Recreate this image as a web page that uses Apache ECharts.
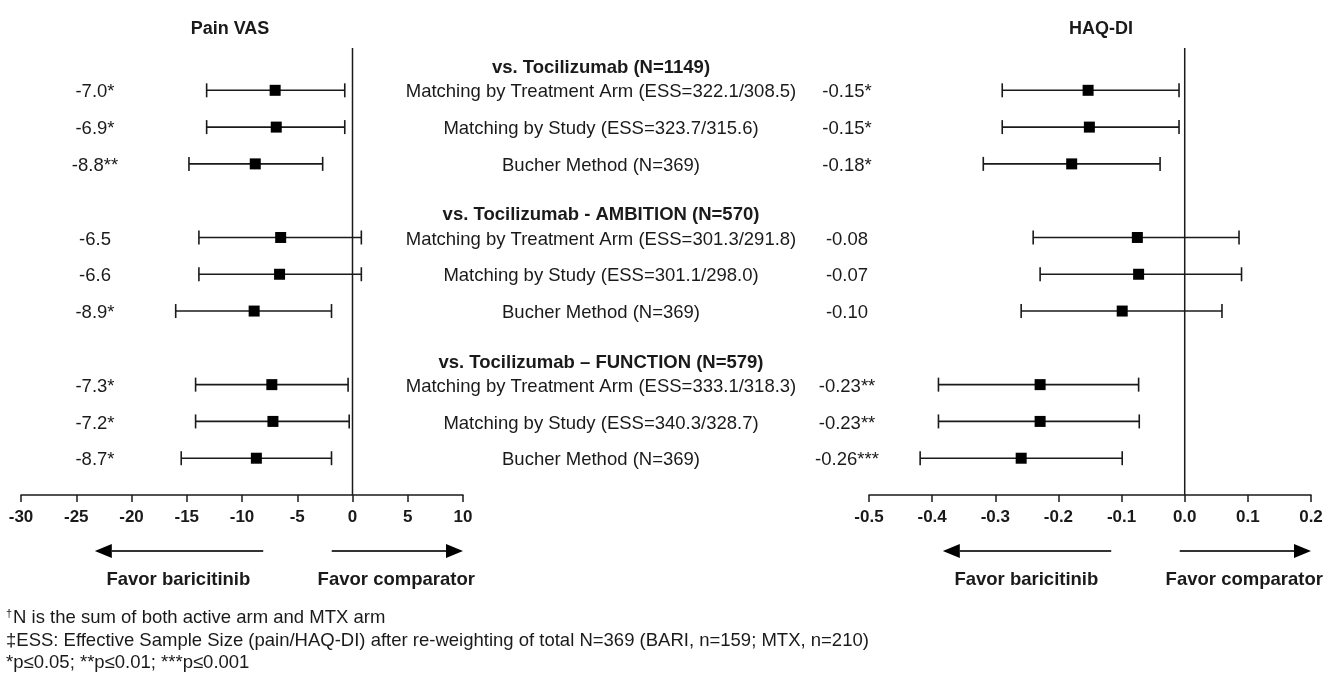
<!DOCTYPE html>
<html><head><meta charset="utf-8">
<script src="https://cdn.jsdelivr.net/npm/echarts@6/dist/echarts.min.js"></script>
<style>html,body{margin:0;padding:0;background:#fff}#c{width:1340px;height:674px}</style>
</head><body><div id="c"></div>
<script>
// ---------- data ----------
const panelTitles = ['Pain VAS', 'HAQ-DI'];
const groups = ['vs. Tocilizumab (N=1149)', 'vs. Tocilizumab - AMBITION (N=570)', 'vs. Tocilizumab \u2013 FUNCTION (N=579)'];
const methods = [
  'Matching by Treatment Arm (ESS=322.1/308.5)', 'Matching by Study (ESS=323.7/315.6)', 'Bucher Method (N=369)',
  'Matching by Treatment Arm (ESS=301.3/291.8)', 'Matching by Study (ESS=301.1/298.0)', 'Bucher Method (N=369)',
  'Matching by Treatment Arm (ESS=333.1/318.3)', 'Matching by Study (ESS=340.3/328.7)', 'Bucher Method (N=369)'
];
const painEst  = [-7.0, -6.9, -8.8, -6.5, -6.6, -8.9, -7.3, -7.2, -8.7];
const painLow  = [-13.2, -13.2, -14.8, -13.9, -13.9, -16.0, -14.2, -14.2, -15.5];
const painHigh = [-0.7, -0.7, -2.7, 0.8, 0.8, -1.9, -0.4, -0.3, -1.9];
const painLabels = ['-7.0*', '-6.9*', '-8.8**', '-6.5', '-6.6', '-8.9*', '-7.3*', '-7.2*', '-8.7*'];
const haqEst  = [-0.153, -0.151, -0.179, -0.075, -0.073, -0.099, -0.229, -0.229, -0.259];
const haqLow  = [-0.289, -0.289, -0.319, -0.240, -0.229, -0.259, -0.390, -0.390, -0.419];
const haqHigh = [-0.009, -0.009, -0.039, 0.086, 0.090, 0.059, -0.073, -0.072, -0.099];
const haqLabels = ['-0.15*', '-0.15*', '-0.18*', '-0.08', '-0.07', '-0.10', '-0.23**', '-0.23**', '-0.26***'];
const painTicks = { min: -30, max: 10, interval: 5 };
const haqTicks = { min: -0.5, max: 0.2, interval: 0.1 };
const favorLabels = ['Favor baricitinib', 'Favor comparator'];
const footnotes = [
  'N is the sum of both active arm and MTX arm',
  '\u2021ESS: Effective Sample Size (pain/HAQ-DI) after re-weighting of total N=369 (BARI, n=159; MTX, n=210)',
  '*p\u22640.05; **p\u22640.01; ***p\u22640.001'
];

// ---------- layout ----------
const FONT = '"Liberation Sans", Arial, Helvetica, sans-serif';
const INK = '#1a1a1a';
const GRID_TOP = 48, GRID_H = 447, GRID_W = 442;
const LEFTS = [21, 869];
const slotOf = i => 4 * Math.floor(i / 3) + 1 + (i % 3);
const headerSlot = g => 4 * g + 0.4;

const chart = echarts.init(document.getElementById('c'));

function barItem(params, api) {
  const est = api.value(0), lo = api.value(1), hi = api.value(2), s = api.value(3);
  const a = api.coord([lo, s]), b = api.coord([hi, s]), e = api.coord([est, s]);
  const cap = 7, box = 11, st = { stroke: INK, lineWidth: 1.6 };
  return { type: 'group', children: [
    { type: 'line', shape: { x1: a[0], y1: a[1], x2: b[0], y2: b[1] }, style: st },
    { type: 'line', shape: { x1: a[0], y1: a[1] - cap, x2: a[0], y2: a[1] + cap }, style: st },
    { type: 'line', shape: { x1: b[0], y1: b[1] - cap, x2: b[0], y2: b[1] + cap }, style: st },
    { type: 'rect', shape: { x: e[0] - box / 2, y: e[1] - box / 2, width: box, height: box }, style: { fill: '#000' } }
  ]};
}
function zeroLine(params, api) {
  const cs = params.coordSys;
  const x = api.coord([api.value(0), 0])[0];
  return { type: 'line', shape: { x1: x, y1: cs.y, x2: x, y2: cs.y + cs.height }, style: { stroke: INK, lineWidth: 1.5 } };
}
function textEl(x, y, text, bold, align) {
  return { type: 'text', x: x, y: y, style: { text: text, fill: INK, fontSize: 18.5, fontFamily: FONT,
    fontWeight: bold ? 'bold' : 'normal', align: align || 'center', verticalAlign: 'middle' } };
}

const rowIdx = methods.map((_, i) => [i, slotOf(i)]);

function xAxisCfg(gi, t, fmt) {
  return {
    type: 'value', gridIndex: gi, position: 'bottom', min: t.min, max: t.max, interval: t.interval,
    axisLine: { show: true, onZero: false, lineStyle: { color: INK, width: 1.5 } },
    axisTick: { show: true, length: 7, lineStyle: { color: INK, width: 1.5 } },
    axisLabel: { color: INK, fontSize: 17, fontWeight: 'bold', fontFamily: FONT, margin: 14, formatter: fmt,
      showMinLabel: true, showMaxLabel: true },
    splitLine: { show: false }
  };
}
function yAxisCfg(gi) {
  return { type: 'value', gridIndex: gi, inverse: true, min: -0.15, max: 12, show: false };
}

// graphic decorations (titles, arrows, footnotes)
const graphics = [];
const titleX = [230, 1101];
panelTitles.forEach((t, k) => graphics.push({ type: 'text', x: titleX[k], y: 29, style: {
  text: t, fill: INK, fontSize: 18, fontWeight: 'bold', fontFamily: FONT, align: 'center', verticalAlign: 'middle' } }));
LEFTS.forEach(x0 => {
  const y = 551, head = 17, hh = 7;
  const lTip = x0 + 0.167 * GRID_W, lTail = x0 + 0.548 * GRID_W;
  const rTail = x0 + 0.703 * GRID_W, rTip = x0 + 1.0 * GRID_W;
  graphics.push({ type: 'line', shape: { x1: lTail, y1: y, x2: lTip + head, y2: y }, style: { stroke: '#333', lineWidth: 2 } });
  graphics.push({ type: 'polygon', shape: { points: [[lTip, y], [lTip + head, y - hh], [lTip + head, y + hh]] }, style: { fill: '#000' } });
  graphics.push({ type: 'line', shape: { x1: rTail, y1: y, x2: rTip - head, y2: y }, style: { stroke: '#333', lineWidth: 2 } });
  graphics.push({ type: 'polygon', shape: { points: [[rTip, y], [rTip - head, y - hh], [rTip - head, y + hh]] }, style: { fill: '#000' } });
  graphics.push({ type: 'text', x: x0 + 0.356 * GRID_W, y: 580, style: { text: favorLabels[0], fill: INK, fontSize: 18.5,
    fontWeight: 'bold', fontFamily: FONT, align: 'center', verticalAlign: 'middle' } });
  graphics.push({ type: 'text', x: x0 + 0.849 * GRID_W, y: 580, style: { text: favorLabels[1], fill: INK, fontSize: 18.5,
    fontWeight: 'bold', fontFamily: FONT, align: 'center', verticalAlign: 'middle' } });
});
footnotes.forEach((t, k) => graphics.push({ type: 'text', x: 6, y: 618 + k * 22.5, style: {
  text: k === 0 ? '{s|\u2020}' + t : t, fill: INK, fontSize: 18.5, fontFamily: FONT, align: 'left', verticalAlign: 'middle',
  rich: { s: { fontSize: 11, fontFamily: FONT, fill: INK, padding: [0, 1, 8, 0] } } } }));

chart.setOption({
  animation: false,
  backgroundColor: '#fff',
  grid: LEFTS.map(l => ({ left: l, top: GRID_TOP, width: GRID_W, height: GRID_H })),
  xAxis: [xAxisCfg(0, painTicks, v => String(v)), xAxisCfg(1, haqTicks, v => v.toFixed(1))],
  yAxis: [yAxisCfg(0), yAxisCfg(1)],
  graphic: graphics,
  series: [
    { type: 'custom', xAxisIndex: 0, yAxisIndex: 0, clip: false, renderItem: zeroLine, data: [[0]], z: 1 },
    { type: 'custom', xAxisIndex: 1, yAxisIndex: 1, clip: false, renderItem: zeroLine, data: [[0]], z: 1 },
    { type: 'custom', xAxisIndex: 0, yAxisIndex: 0, clip: false, renderItem: barItem, z: 3,
      data: painEst.map((v, i) => [v, painLow[i], painHigh[i], slotOf(i)]) },
    { type: 'custom', xAxisIndex: 1, yAxisIndex: 1, clip: false, renderItem: barItem, z: 3,
      data: haqEst.map((v, i) => [v, haqLow[i], haqHigh[i], slotOf(i)]) },
    // value labels, left panel
    { type: 'custom', xAxisIndex: 0, yAxisIndex: 0, clip: false, data: rowIdx,
      renderItem: (p, api) => { const y = api.coord([0, api.value(1)])[1];
        return textEl(p.coordSys.x + 74, y + 2, painLabels[p.dataIndex], false); } },
    // method names (middle column)
    { type: 'custom', xAxisIndex: 0, yAxisIndex: 0, clip: false, data: rowIdx,
      renderItem: (p, api) => { const y = api.coord([0, api.value(1)])[1];
        return textEl(p.coordSys.x + p.coordSys.width + 138, y + 2, methods[p.dataIndex], false); } },
    // group headers
    { type: 'custom', xAxisIndex: 0, yAxisIndex: 0, clip: false, data: groups.map((_, g) => [g, headerSlot(g)]),
      renderItem: (p, api) => { const y = api.coord([0, api.value(1)])[1];
        return textEl(p.coordSys.x + p.coordSys.width + 138, y, groups[p.dataIndex], true); } },
    // value labels, right panel
    { type: 'custom', xAxisIndex: 1, yAxisIndex: 1, clip: false, data: rowIdx,
      renderItem: (p, api) => { const y = api.coord([0, api.value(1)])[1];
        return textEl(p.coordSys.x - 22, y + 2, haqLabels[p.dataIndex], false); } }
  ]
});
</script></body></html>
